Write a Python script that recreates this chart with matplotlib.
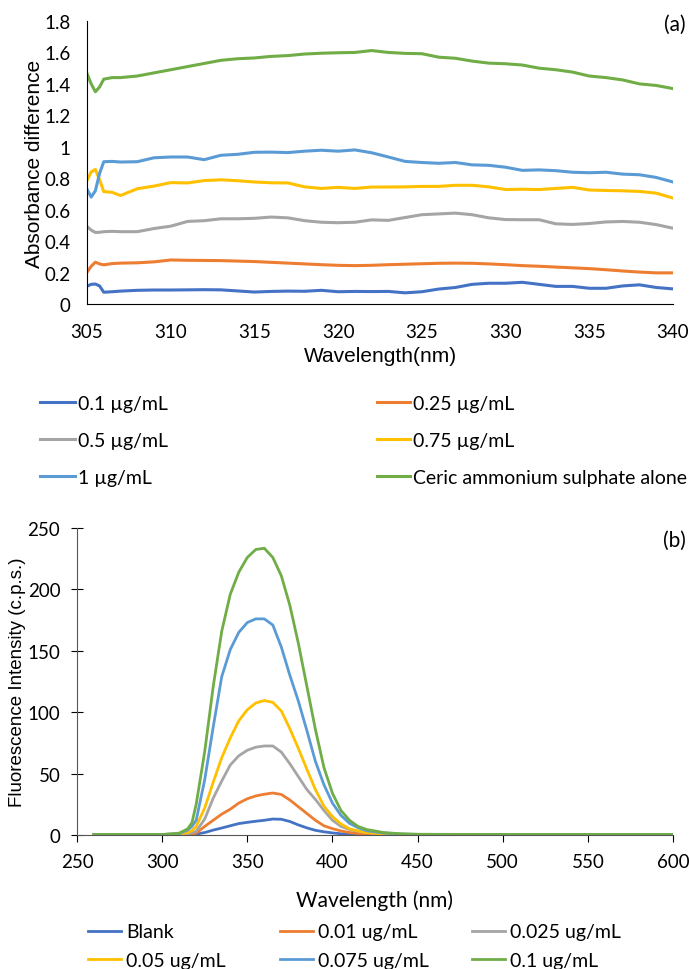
import matplotlib
matplotlib.use("Agg")
import matplotlib.pyplot as plt

# ---- panel (a): absorbance difference ----
wl_a = [305, 305.25, 305.5, 305.75, 306, 306.5, 307, 308, 309, 310, 311, 312, 313, 314,
        315, 316, 317, 318, 319, 320, 321, 322, 323, 324, 325, 326, 327, 328, 329, 330,
        331, 332, 333, 334, 335, 336, 337, 338, 339, 340]

abs_01 = [0.113, 0.125, 0.127, 0.115, 0.075, 0.078, 0.082, 0.087, 0.089, 0.089, 0.090, 0.091, 0.090, 0.083,
          0.076, 0.080, 0.082, 0.081, 0.087, 0.078, 0.080, 0.079, 0.080, 0.071, 0.078, 0.095, 0.105, 0.125, 0.132, 0.132,
          0.138, 0.125, 0.112, 0.112, 0.100, 0.100, 0.115, 0.122, 0.105, 0.096]
abs_025 = [0.202, 0.240, 0.266, 0.255, 0.249, 0.257, 0.260, 0.262, 0.268, 0.280, 0.278, 0.277, 0.276, 0.273,
           0.270, 0.265, 0.260, 0.255, 0.250, 0.246, 0.244, 0.246, 0.250, 0.253, 0.256, 0.259, 0.260, 0.259, 0.255, 0.250,
           0.244, 0.240, 0.235, 0.230, 0.225, 0.218, 0.210, 0.203, 0.198, 0.198]
abs_05 = [0.493, 0.470, 0.455, 0.456, 0.460, 0.462, 0.460, 0.460, 0.480, 0.495, 0.525, 0.530, 0.542, 0.542,
          0.545, 0.553, 0.548, 0.530, 0.520, 0.517, 0.520, 0.535, 0.532, 0.550, 0.568, 0.573, 0.578, 0.568, 0.548, 0.537,
          0.536, 0.536, 0.510, 0.506, 0.512, 0.522, 0.525, 0.520, 0.505, 0.482]
abs_075 = [0.786, 0.840, 0.856, 0.790, 0.715, 0.710, 0.690, 0.733, 0.750, 0.772, 0.770, 0.785, 0.790, 0.784,
           0.776, 0.771, 0.770, 0.745, 0.735, 0.742, 0.735, 0.744, 0.744, 0.745, 0.748, 0.748, 0.755, 0.755, 0.745, 0.728,
           0.730, 0.728, 0.735, 0.742, 0.725, 0.722, 0.720, 0.716, 0.705, 0.674]
abs_1 = [0.730, 0.680, 0.720, 0.830, 0.905, 0.907, 0.903, 0.905, 0.930, 0.935, 0.935, 0.918, 0.946, 0.952,
         0.965, 0.966, 0.963, 0.972, 0.978, 0.972, 0.980, 0.962, 0.935, 0.907, 0.900, 0.895, 0.900, 0.885, 0.882, 0.870,
         0.850, 0.853, 0.848, 0.838, 0.835, 0.838, 0.826, 0.822, 0.805, 0.776]
abs_ceric = [1.466, 1.400, 1.350, 1.380, 1.430, 1.440, 1.440, 1.450, 1.470, 1.490, 1.510, 1.530, 1.550, 1.560,
             1.565, 1.575, 1.580, 1.590, 1.595, 1.598, 1.600, 1.612, 1.600, 1.594, 1.592, 1.570, 1.563, 1.545, 1.532, 1.528,
             1.520, 1.500, 1.490, 1.475, 1.450, 1.440, 1.425, 1.400, 1.390, 1.370]

labels_a = ["0.1 µg/mL", "0.25 µg/mL", "0.5 µg/mL", "0.75 µg/mL", "1 µg/mL",
            "Ceric ammonium sulphate alone"]

# ---- panel (b): fluorescence ----
wl_b = [260, 300, 310, 315, 317.5, 320, 325, 330, 335, 340, 345, 350, 355, 360, 365, 370, 375,
        380, 385, 390, 395, 400, 405, 410, 415, 420, 430, 440, 450, 500, 550, 600]

fl_blank = [0.4, 0.4, 0.4, 0.4, 0.5, 0.7, 2.0, 4.0, 5.7, 7.5, 9.3, 10.3, 11.2, 12.0, 13.0, 12.8, 11.0,
            8.2, 5.8, 3.8, 2.6, 1.7, 1.0, 0.6, 0.4, 0.4, 0.4, 0.4, 0.4, 0.4, 0.4, 0.4]
fl_001 = [0.4, 0.4, 0.4, 0.4, 0.7, 1.5, 7.0, 12.0, 17.0, 21.0, 26.0, 29.5, 31.8, 33.2, 34.2, 33.0, 28.5,
          23.0, 17.5, 12.0, 7.5, 5.2, 3.3, 2.0, 1.2, 0.8, 0.5, 0.4, 0.4, 0.4, 0.4, 0.4]
fl_0025 = [0.4, 0.4, 0.5, 1.0, 1.8, 3.0, 13.0, 30.0, 44.0, 57.0, 64.5, 69.0, 71.5, 72.5, 72.5, 67.5, 58.0,
           47.5, 37.0, 29.0, 20.0, 12.0, 7.0, 4.5, 3.0, 2.0, 0.8, 0.5, 0.4, 0.4, 0.4, 0.4]
fl_005 = [0.4, 0.4, 0.7, 2.0, 3.5, 7.0, 22.0, 43.0, 63.0, 79.0, 93.0, 102.0, 107.5, 109.5, 108.0, 101.0, 86.5,
          70.5, 53.5, 37.0, 23.5, 15.0, 9.0, 5.0, 3.3, 2.0, 0.8, 0.5, 0.4, 0.4, 0.4, 0.4]
fl_0075 = [0.4, 0.4, 1.2, 4.0, 7.0, 12.0, 45.0, 88.0, 129.0, 151.0, 165.0, 173.0, 176.0, 176.0, 171.0, 153.0, 130.0,
           109.0, 85.0, 60.0, 41.0, 26.0, 16.0, 9.5, 6.0, 3.5, 1.6, 0.8, 0.5, 0.4, 0.4, 0.4]
fl_01 = [0.4, 0.4, 1.5, 5.0, 10.0, 25.0, 68.0, 121.0, 166.0, 196.0, 214.0, 226.0, 232.5, 233.5, 226.0, 211.0, 187.0,
         156.0, 121.0, 86.0, 55.0, 34.0, 20.0, 12.0, 7.0, 4.5, 2.0, 1.0, 0.6, 0.4, 0.4, 0.4]

labels_b = ["Blank", "0.01 ug/mL", "0.025 ug/mL", "0.05 ug/mL", "0.075 ug/mL", "0.1 ug/mL"]

colors = ["#4472C4", "#ED7D31", "#A5A5A5", "#FFC000", "#5B9BD5", "#70AD47"]

tick_font = "Lato"
label_font = "Liberation Sans"
W, H = 689, 970

fig = plt.figure(figsize=(6.89, 9.70), dpi=100)

# top panel
ax1 = fig.add_axes([87 / W, 1 - 305 / H, (673 - 87) / W, (305 - 22) / H])
series_a = [abs_01, abs_025, abs_05, abs_075, abs_1, abs_ceric]
lines_a = []
for y, c, lab in zip(series_a, colors, labels_a):
    ln, = ax1.plot(wl_a, y, color=c, lw=2.2, label=lab)
    lines_a.append(ln)
ax1.set_xlim(305, 340)
ax1.set_ylim(0, 1.8)
ax1.set_xticks(range(305, 341, 5))
ax1.set_yticks([0, 0.2, 0.4, 0.6, 0.8, 1.0, 1.2, 1.4, 1.6, 1.8])
ax1.set_yticklabels(["0", "0.2", "0.4", "0.6", "0.8", "1", "1.2", "1.4", "1.6", "1.8"])
ax1.tick_params(axis="x", length=0, labelsize=13.5, pad=14)
ax1.tick_params(axis="y", length=0, labelsize=13.5, pad=12)
for t in ax1.get_xticklabels() + ax1.get_yticklabels():
    t.set_family(tick_font)
for s in ["top", "right"]:
    ax1.spines[s].set_visible(False)
ax1.set_xlabel("Wavelength(nm)", fontsize=15, family=label_font, labelpad=4)
ax1.set_ylabel("Absorbance difference", fontsize=15, family=label_font)
ax1.yaxis.set_label_coords(-0.073, 0.5)
fig.text(686 / W, 1 - 25 / H, "(a)", ha="right", va="center", fontsize=15, family=tick_font)

leg_kw = dict(loc="upper left", frameon=False, borderpad=0, borderaxespad=0,
              prop={"family": tick_font, "size": 14})
fig.legend([lines_a[i] for i in [0, 2, 4]], [labels_a[i] for i in [0, 2, 4]],
           bbox_to_anchor=(40 / W, 1 - 396 / H), handlelength=1.8, handletextpad=0.15,
           labelspacing=1.03, **leg_kw)
fig.legend([lines_a[i] for i in [1, 3, 5]], [labels_a[i] for i in [1, 3, 5]],
           bbox_to_anchor=(377 / W, 1 - 396 / H), handlelength=1.7, handletextpad=0.15,
           labelspacing=1.03, **leg_kw)

# bottom panel
ax2 = fig.add_axes([77 / W, 1 - 836 / H, (673 - 77) / W, (836 - 529) / H])
series_b = [fl_blank, fl_001, fl_0025, fl_005, fl_0075, fl_01]
lines_b = []
for y, c, lab in zip(series_b, colors, labels_b):
    ln, = ax2.plot(wl_b, y, color=c, lw=2.0, label=lab)
    lines_b.append(ln)
ax2.set_xlim(250, 600)
ax2.set_ylim(0, 250)
ax2.set_xticks(range(250, 601, 50))
ax2.set_yticks(range(0, 251, 50))
ax2.tick_params(axis="x", direction="out", length=5, width=0.8, labelsize=13.5, pad=8)
ax2.tick_params(axis="y", direction="inout", length=8, width=0.8, labelsize=13.5, pad=8)
for t in ax2.get_xticklabels() + ax2.get_yticklabels():
    t.set_family(tick_font)
for s in ["top", "right"]:
    ax2.spines[s].set_visible(False)
ax2.spines["left"].set_color("#555555")
ax2.spines["bottom"].set_color("#555555")
ax2.set_xlabel("Wavelength (nm)", fontsize=15, family=tick_font, labelpad=14)
ax2.set_ylabel("Fluorescence Intensity (c.p.s.)", fontsize=13.5, family=label_font)
ax2.yaxis.set_label_coords(-0.086, 0.5)
fig.text(686 / W, 1 - 541 / H, "(b)", ha="right", va="center", fontsize=15, family=tick_font)

for k, x0 in enumerate([88, 280, 472]):
    fig.legend([lines_b[k], lines_b[k + 3]], [labels_b[k], labels_b[k + 3]],
               bbox_to_anchor=(x0 / W, 1 - 924.5 / H), handlelength=1.7, handletextpad=0.25,
               labelspacing=0.57, **leg_kw)

fig.savefig("out.png", dpi=100)
